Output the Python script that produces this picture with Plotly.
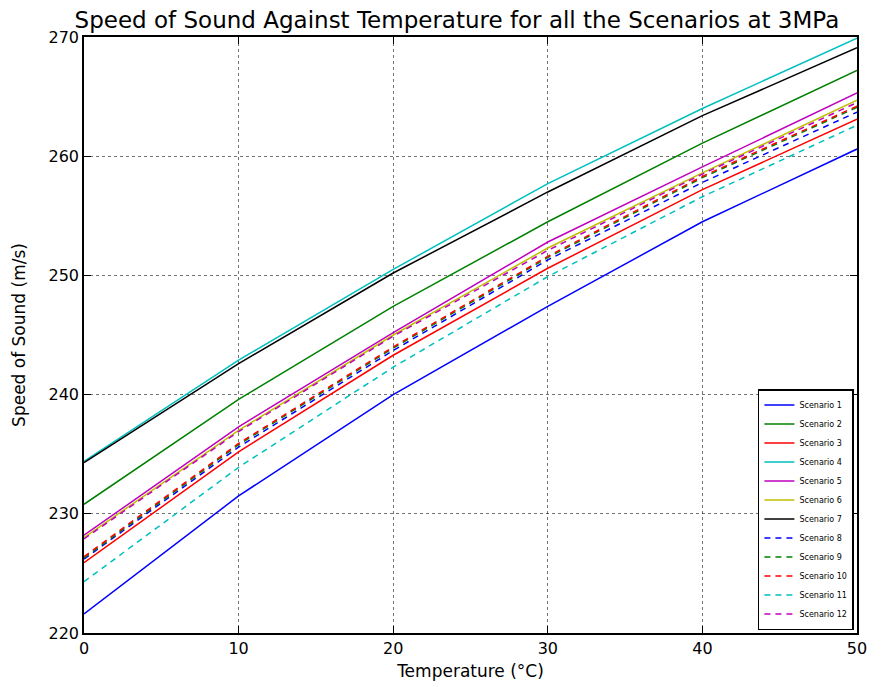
import plotly.graph_objects as go

temperature = [0, 10, 20, 30, 40, 50]

scenario_names = [f"Scenario {i}" for i in range(1, 13)]

s1 = [221.6, 231.5, 240.0, 247.4, 254.5, 260.6]
s2 = [230.8, 239.6, 247.4, 254.5, 261.1, 267.2]
s3 = [225.9, 235.2, 243.3, 250.6, 257.2, 263.1]
s4 = [234.4, 242.9, 250.5, 257.7, 264.0, 269.9]
s5 = [228.2, 237.3, 245.2, 252.8, 259.1, 265.3]
s6 = [228.0, 237.0, 245.0, 252.3, 258.6, 264.7]
s7 = [234.3, 242.6, 250.2, 257.0, 263.4, 269.1]
s8 = [226.2, 235.6, 243.7, 251.3, 257.8, 263.7]
s9 = [226.3, 235.8, 243.9, 251.5, 258.2, 264.1]
s10 = [226.4, 235.9, 244.0, 251.6, 258.3, 264.2]
s11 = [224.3, 233.9, 242.3, 249.9, 256.6, 262.6]
s12 = [227.9, 236.9, 244.9, 252.1, 258.5, 264.5]

series = [s1, s2, s3, s4, s5, s6, s7, s8, s9, s10, s11, s12]
colors = ["#0000ff", "#008000", "#ff0000", "#00bfbf", "#bf00bf", "#bfbf00", "#000000"]

fig = go.Figure()
for i, (name, vals) in enumerate(zip(scenario_names, series)):
    fig.add_trace(go.Scatter(
        x=temperature, y=vals, mode="lines", name=name,
        line=dict(color=colors[i % 7], width=1.5,
                  dash="solid" if i < 7 else "6px,5px"),
    ))

font_family = "DejaVu Sans"
axis_common = dict(
    showline=True, linecolor="black", linewidth=1.5, mirror="allticks",
    ticks="inside", ticklen=7, tickwidth=1.2, tickcolor="black",
    showgrid=True, gridcolor="rgba(0,0,0,0.55)", griddash="dot", gridwidth=1,
    zeroline=False, automargin=False,
    tickfont=dict(family=font_family, size=16, color="black"),
)

fig.update_layout(
    width=882, height=679,
    margin=dict(l=76, r=33, t=29, b=54),
    paper_bgcolor="white", plot_bgcolor="white",
    font=dict(family=font_family, color="black"),
    title=dict(text="Speed of Sound Against Temperature for all the Scenarios at 3MPa",
               x=0.509, xanchor="center", y=0.982, yanchor="middle",
               font=dict(family=font_family, size=23, color="black")),
    xaxis=dict(range=[0, 50], tickvals=[0, 10, 20, 30, 40, 50],
               title=dict(text="Temperature (°C)", font=dict(size=17), standoff=8),
               **axis_common),
    yaxis=dict(range=[220, 270], tickvals=[220, 230, 240, 250, 260, 270],
               title=dict(text="Speed of Sound (m/s)", font=dict(size=17), standoff=19),
               **axis_common),
    legend=dict(x=0.996, y=0.005, xanchor="right", yanchor="bottom",
                bgcolor="white", bordercolor="black", borderwidth=1.5,
                font=dict(family=font_family, size=8, color="black"),
                tracegroupgap=0, itemwidth=30),
    showlegend=True,
)

fig.write_html("out.html")
